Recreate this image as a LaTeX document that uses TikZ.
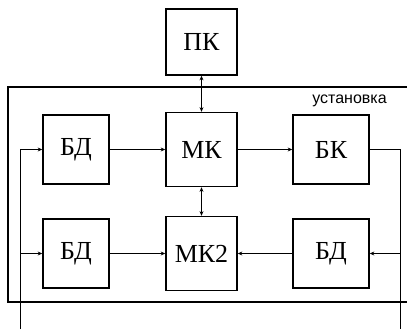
\documentclass[tikz,border=0pt]{standalone}
\usepackage{fontspec}
\setmainfont{Liberation Serif}
\newfontfamily\labelsans{Liberation Sans}
\usetikzlibrary{arrows.meta}
\begin{document}
\begin{tikzpicture}[x=0.75pt,y=-0.75pt,
  blk/.style={draw=black,line width=1.1pt,rectangle,inner sep=0pt,font=\fontsize{19.5}{22}\selectfont},
  conn/.style={draw=black,line width=0.7pt},
  arr/.style={conn,-{Stealth[length=3.5pt,width=3pt]}},
  darr/.style={conn,{Stealth[length=3.5pt,width=3pt]}-{Stealth[length=3.5pt,width=3pt]}}]
\useasboundingbox (0,0) rectangle (407,329);
% nodes
\node[blk,minimum width=53.25pt,minimum height=49.5pt] (pk) at (201.5,42) {ПК};
\node[blk,minimum width=49.5pt,minimum height=51.75pt] (bd1) at (76,149.5) {БД};
\node[blk,minimum width=53.25pt,minimum height=55.5pt] (mk) at (201.5,149.5) {МК};
\node[blk,minimum width=57pt,minimum height=51.75pt] (bk) at (331,149.5) {БК};
\node[blk,minimum width=49.5pt,minimum height=51.75pt] (bd2) at (76,253.5) {БД};
\node[blk,minimum width=53.25pt,minimum height=55.5pt] (mk2) at (201.5,253.5) {МК2};
\node[blk,minimum width=57pt,minimum height=51.75pt] (bd3) at (331,253.5) {БД};
\node[font=\labelsans\fontsize{12}{14}\selectfont,inner sep=0pt] (ust) at (349.5,101) {установка};
% outer frame
\coordinate (otr) at (407,87);
\coordinate (otl) at (8,87);
\coordinate (obl) at (8,302);
\coordinate (obr) at (407,302);
\draw[line width=0.9pt] (otr) -- (otl) -- (obl) -- (obr);
% feedback lines
\coordinate (lbot) at (20,329);
\coordinate (rbot) at (400,329);
% connections
\draw[darr] (pk.south) -- (mk.north);
\draw[darr] (mk.south) -- (mk2.north);
\draw[arr] (bd1.east) -- (mk.west);
\draw[arr] (mk.east) -- (bk.west);
\draw[arr] (bd2.east) -- (mk2.west);
\draw[arr] (bd3.west) -- (mk2.east);
\draw[arr] (lbot) |- (bd1.west);
\draw[arr] (lbot |- bd2.west) -- (bd2.west);
\draw[conn] (bk.east) -| (rbot);
\draw[arr] (rbot |- bd3.east) -- (bd3.east);
\end{tikzpicture}
\end{document}
